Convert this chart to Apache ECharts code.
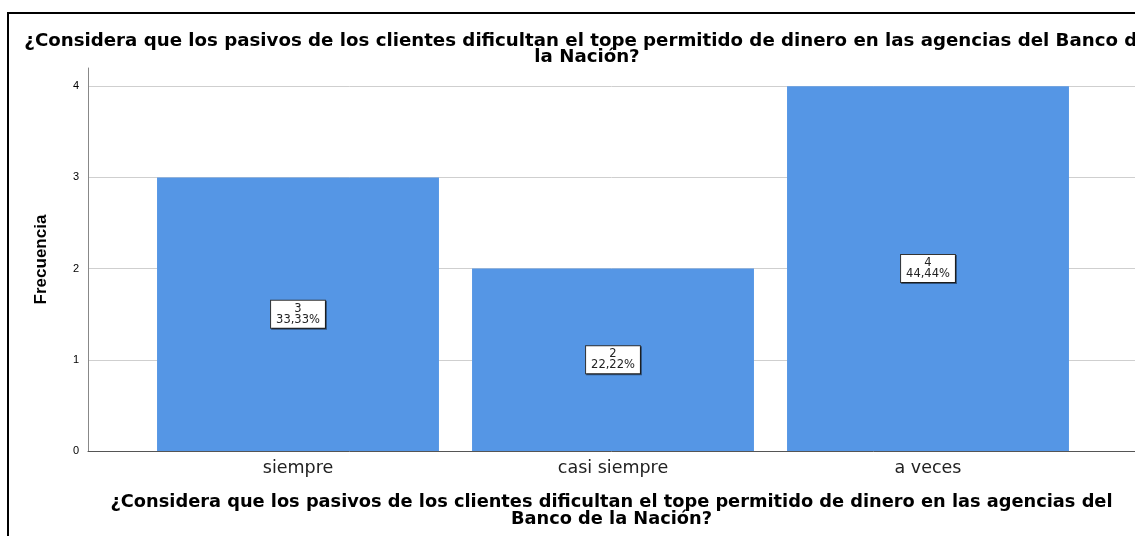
<!DOCTYPE html>
<html>
<head>
<meta charset="utf-8">
<script src="https://cdn.jsdelivr.net/npm/echarts@6/dist/echarts.min.js"></script>
<style>
  html, body { margin: 0; padding: 0; background: #fff; }
  #chart { width: 1135px; height: 536px; }
</style>
</head>
<body>
<div id="chart"></div>
<script>
// datos
const categories = ["siempre", "casi siempre", "a veces"];
const frequencies = [3, 2, 4];
const percentages = ["33,33%", "22,22%", "44,44%"];
const yTicks = [0, 1, 2, 3, 4];

const barColor = "#5596e5";
const narrow = "'Liberation Sans Narrow', 'Liberation Sans', Arial, sans-serif";
const wide = "'DejaVu Sans', Arial, sans-serif";

const chart = echarts.init(document.getElementById("chart"));

const option = {
  backgroundColor: "#ffffff",
  animation: false,
  title: {
    text: "¿Considera que los pasivos de los clientes dificultan el tope permitido de dinero en las agencias del Banco de\nla Nación?",
    left: 582,
    top: 29,
    textAlign: "center",
    textStyle: {
      fontFamily: wide,
      fontSize: 18.2,
      fontWeight: "bold",
      lineHeight: 15.5,
      color: "#000",
    },
  },
  graphic: [
    {
      type: "rect",
      shape: { x: 8, y: 13, width: 1200, height: 600 },
      style: { fill: "none", stroke: "#000", lineWidth: 2 },
      silent: true,
      z: 100,
    },
  ],
  grid: [
    // fondo: eje Y, líneas de cuadrícula y eje X completo
    { left: 88, right: -20, top: 68, bottom: 85 },
    // barras
    { left: 140.5, width: 945, top: 68, bottom: 85 },
  ],
  xAxis: [
    {
      gridIndex: 0,
      type: "value",
      min: 0,
      max: 1,
      axisLine: { show: true, lineStyle: { color: "#555", width: 1 } },
      axisTick: { show: false },
      axisLabel: { show: false },
      splitLine: { show: false },
      name: "¿Considera que los pasivos de los clientes dificultan el tope permitido de dinero en las agencias del\nBanco de la Nación?",
      nameLocation: "middle",
      nameGap: 43,
      nameTextStyle: {
        fontFamily: wide,
        fontSize: 17.8,
        fontWeight: "bold",
        lineHeight: 17,
        color: "#000",
      },
    },
    {
      gridIndex: 1,
      type: "category",
      data: categories,
      axisLine: { show: false },
      axisTick: { show: false },
      axisLabel: {
        margin: 8,
        fontFamily: wide,
        fontSize: 17.5,
        color: "#222",
      },
    },
  ],
  yAxis: [
    {
      gridIndex: 0,
      type: "value",
      min: yTicks[0],
      max: 4.2,
      interval: 1,
      axisLine: { show: true, lineStyle: { color: "#888", width: 1 } },
      axisTick: { show: false },
      axisLabel: {
        showMaxLabel: false,
        margin: 9,
        fontFamily: "Arial, 'Liberation Sans', sans-serif",
        fontSize: 11,
        color: "#000",
      },
      splitLine: { show: true, showMaxLine: false, lineStyle: { color: "#cfcfcf", width: 1 } },
      name: "Frecuencia",
      nameLocation: "middle",
      nameGap: 38,
      nameTextStyle: {
        fontFamily: narrow,
        fontSize: 17,
        fontWeight: "bold",
        color: "#000",
      },
    },
    {
      gridIndex: 1,
      type: "value",
      min: 0,
      max: 4.2,
      interval: 1,
      show: false,
    },
  ],
  series: [
    {
      type: "bar",
      xAxisIndex: 1,
      yAxisIndex: 1,
      data: frequencies,
      barCategoryGap: "10.5%",
      itemStyle: { color: barColor },
      label: {
        show: true,
        position: "inside",
        formatter: (p) => p.value + "\n" + percentages[p.dataIndex],
        fontFamily: wide,
        fontSize: 11.5,
        lineHeight: 11,
        color: "#222",
        align: "center",
        backgroundColor: "#fff",
        borderColor: "#333",
        borderWidth: 1,
        padding: [3, 5, 2, 5],
        shadowColor: "rgba(0,0,0,0.45)",
        shadowOffsetX: 1,
        shadowOffsetY: 1,
        shadowBlur: 0,
      },
      emphasis: { disabled: true },
    },
  ],
};

chart.setOption(option);
window.addEventListener("resize", () => chart.resize());
</script>
</body>
</html>
